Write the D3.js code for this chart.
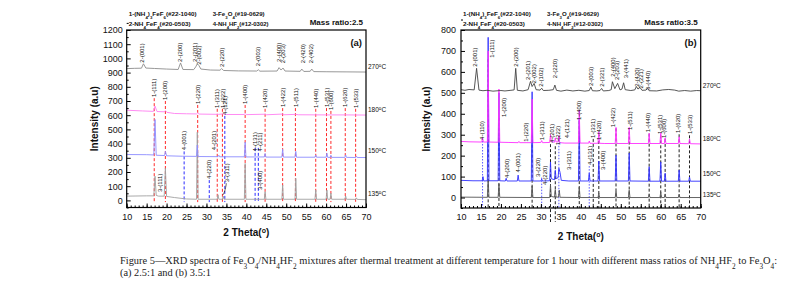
<!DOCTYPE html>
<html lang="en">
<head>
<meta charset="utf-8">
<title>XRD spectra</title>
<script src="https://cdn.jsdelivr.net/npm/d3@7"></script>
<style>
  body { margin: 0; background: #fff; }
  svg text { font-family: Arial, "Liberation Sans", sans-serif; fill: #111; }
</style>
</head>
<body>
<script>
// ---- data ----
var xTickVals = [10, 15, 20, 25, 30, 35, 40, 45, 50, 55, 60, 65, 70];
var yTicksA = [0, 100, 200, 300, 400, 500, 600, 700, 800, 900, 1000, 1100, 1200];
var yTicksB = [0, 100, 200, 300, 400, 500, 600, 700, 800];
var tempNames = ["270^oC", "180^oC", "150^oC", "135^oC"];
var tempPosA = [940, 637, 351, 49];
var tempPosB = [535, 281, 112, 12];
var legendText = ["1-(NH_4)_3FeF_6(#22-1040)", "2-NH_4FeF_4(#20-0503)", "3-Fe_3O_4(#19-0629)", "4-NH_4HF_2(#12-0302)"];
var legendWidth = [68, 62, 52, 56];

// panel (a) spectra, [2theta, intensity]
var a270 = [[10,928],[12,930],[13.7,931],[14.2,962],[14.8,932],[17,929],[20,925],[22.9,922],[23.5,968],[24.1,922],[26.8,921],[27.3,940],[27.7,962],[28.1,950],[28.6,925],[31,918],[33.4,917],[33.8,928],[34.3,915],[38,912],[42.6,911],[43,920],[43.4,910],[47.7,911],[48.2,935],[48.7,918],[49.2,932],[49.7,911],[53.5,909],[53.9,925],[54.4,908],[56,909],[56.4,925],[56.9,907],[60,906],[65,905],[70,904]];
var a180 = [[10,635],[14,630],[16.7,627],[17.1,664],[17.6,626],[19.4,624],[19.7,632],[20.1,620],[22,612],[25,610],[27.5,609],[27.8,617],[28.1,608],[33,606],[34.2,609],[35,605],[39.5,605],[39.7,613],[40,604],[44.7,607],[45,603],[49.1,608],[49.4,603],[52.4,606],[53,603],[60,602],[65,602],[70,601]];
var a150 = [[10,323],[15,322],[16.8,320],[17.1,570],[17.4,318],[19.5,316],[19.7,345],[20,314],[24,311],[27.5,310],[27.7,390],[27.9,309],[32.9,308],[33.1,318],[33.3,307],[39.5,307],[39.7,410],[39.9,306],[44.5,306],[44.7,330],[44.9,305],[48.9,305],[49.1,360],[49.3,305],[52.2,305],[52.4,345],[52.6,304],[57.2,304],[57.4,320],[57.6,304],[60,304],[60.2,332],[60.4,303],[61,303],[61.2,318],[61.4,303],[64.7,303],[64.9,320],[65.1,303],[67.4,302],[67.6,312],[67.8,302],[70,302]];
var a135 = [[10,30],[15,32],[16.8,32],[17.1,170],[17.4,35],[18,30],[19.4,30],[19.7,225],[20,28],[22,20],[25,10],[27.5,8],[27.7,480],[27.9,8],[32.7,8],[32.9,40],[33.1,8],[34,8],[34.2,30],[34.4,8],[39.5,8],[39.7,260],[39.9,8],[44.5,8],[44.7,61],[44.9,8],[48.9,8],[49.1,108],[49.3,8],[52.2,8],[52.4,155],[52.6,8],[57.2,8],[57.4,73],[57.6,8],[60,8],[60.2,73],[60.4,8],[61,8],[61.2,51],[61.4,8],[64.7,8],[64.9,31],[65.1,8],[67.4,7],[67.6,18],[67.8,7],[70,5]];

// panel (b) spectra
var b270 = [[10,515],[11,512],[12,516],[13.3,514],[13.9,617],[14.5,513],[15.5,510],[16.5,512],[18,508],[20,511],[21,509],[22.5,512],[23.3,514],[23.7,617],[24.1,512],[25.5,509],[26.8,515],[27.4,555],[27.8,530],[28.3,545],[28.8,515],[29.8,513],[30.2,522],[30.6,511],[32,512],[33.1,515],[33.5,537],[33.9,512],[35,508],[36.5,513],[38,509],[39.5,512],[41,508],[42.1,511],[42.5,528],[42.9,510],[44,509],[44.8,511],[45.2,521],[45.6,509],[47,511],[47.6,515],[47.9,553],[48.5,520],[49.2,545],[49.8,514],[50.3,518],[50.7,548],[51.1,515],[52.5,511],[53.5,514],[53.9,530],[54.3,518],[54.8,526],[55.3,512],[56.3,513],[56.7,522],[57.1,510],[59,509],[60.5,514],[62,516],[63.5,513],[64.5,508],[66,511],[67.5,508],[69,511],[70,510]];
var b180 = [[10,268],[12,266],[15.2,265],[15.4,285],[15.6,265],[16.6,265],[16.8,700],[17,265],[19.3,264],[19.5,518],[19.7,264],[22,263],[24.3,262],[24.5,268],[24.7,262],[27.6,262],[27.8,470],[28,262],[30,263],[30.2,272],[30.4,262],[32.2,263],[32.4,300],[32.6,268],[33.4,264],[33.6,285],[33.8,265],[34.3,266],[34.5,295],[34.7,262],[36,260],[39.4,260],[39.6,418],[39.8,260],[42,260],[42.1,270],[42.3,259],[44.3,259],[44.5,314],[44.7,259],[46,258],[48.6,258],[48.8,335],[49,258],[51.9,258],[52.1,335],[52.3,258],[56.9,258],[57.1,307],[57.3,258],[59.8,258],[60,309],[60.2,258],[60.9,258],[61.1,285],[61.3,258],[64.4,258],[64.6,290],[64.8,258],[67,257],[67.2,280],[67.4,257],[70,256]];
var b150 = [[10,82],[13,80],[15.3,80],[15.5,100],[15.7,79],[16.6,80],[16.8,765],[17,80],[19.3,80],[19.5,500],[19.7,80],[21.1,79],[21.3,92],[21.5,79],[24.1,79],[24.3,107],[24.5,79],[27.6,79],[27.8,505],[28,79],[30,79],[30.2,88],[30.4,79],[32.2,80],[32.4,170],[32.6,90],[33.4,85],[33.6,130],[33.8,90],[34.3,95],[34.5,140],[34.8,120],[35.1,82],[37,79],[39.4,79],[39.6,380],[39.8,79],[41.9,79],[42.1,116],[42.3,79],[44.3,79],[44.5,174],[44.7,79],[48.6,79],[48.8,202],[49,79],[51.9,79],[52.1,212],[52.3,79],[56.9,78],[57.1,147],[57.3,78],[59.8,78],[60,170],[60.2,78],[60.9,78],[61.1,116],[61.3,78],[64.4,78],[64.6,131],[64.8,78],[67,78],[67.2,98],[67.4,78],[70,78]];
var b135 = [[10,2],[16.6,1],[16.8,90],[17,1],[19.3,1],[19.5,65],[19.7,1],[27.6,0],[27.8,55],[28,0],[32.2,0],[32.4,60],[32.6,5],[33.4,2],[33.6,38],[33.8,2],[34.4,2],[34.6,35],[34.8,1],[39.4,0],[39.6,50],[39.8,0],[44.3,0],[44.5,20],[44.7,0],[48.6,0],[48.8,30],[49,0],[51.9,0],[52.1,35],[52.3,0],[56.9,0],[57.1,15],[57.3,0],[59.8,0],[60,25],[60.2,0],[60.9,0],[61.1,15],[61.3,0],[64.4,0],[64.6,15],[64.8,0],[70,0]];

// reference lines [2theta, top intensity]
var redLinesA = [[16.9,720],[19.7,700],[27.8,672],[32.7,645],[34.0,645],[39.7,672],[44.7,645],[49.1,650],[52.3,650],[57.4,645],[60.1,650],[61.2,630],[64.8,650],[67.4,645]];
var blueLinesA = [[24.4,345],[30.7,143],[34.6,595],[42.2,370],[43.0,370]];
var blackLinesB = [[16.8,660],[19.5,380],[27.8,300],[32.4,255],[33.6,245],[39.6,365],[43.1,280],[44.5,270],[48.8,330],[52.1,315],[57.1,305],[60.0,297],[61.1,280],[64.6,302],[67.2,297]];
var blueLinesB = [[15.4,270],[30.2,95],[34.5,290],[42.1,150]];
var longLinesB = [32.4, 33.6];

// peak labels [text, 2theta, intensity at text foot]
var labelsA = [["2-(001)",13.8,970],["2-(200)",23.3,975],["2-(201)",27.0,975],["2-(002)",28.0,955],["2-(220)",33.8,940],["2-(003)",43.0,945],["2-(400)",48.2,975],["2-(203)",49.2,965],["2-(420)",54.1,965],["2-(402)",56.3,965],
  ["1-(111)",16.9,728],["1-(200)",19.7,707],["1-(220)",27.8,679],["1-(311)",32.7,651],["1-(222)",34.0,651],["4-(121)",34.6,601],["1-(400)",39.7,679],["1-(420)",44.7,651],["1-(422)",49.1,658],["1-(511)",52.3,658],["1-(440)",57.4,651],["1-(531)",60.1,658],["1-(600)",61.2,637],["1-(620)",64.8,658],["1-(533)",67.4,651],
  ["4-(001)",24.4,354],["4-(220)",30.7,150],["4-(201)",31.8,354],["3-(311)",35.2,128],["3-(111)",18.35,59],["4-(131)",42.1,345],["4-(211)",43.3,345],["3-(400)",43.4,73]];
var leaderA = [[35.0,120],[34.6,60],[34.1,38]];
var labelsB = [["2-(001)",13.5,624],["2-(200)",23.7,625],["2-(201)",26.8,561],["2-(002)",28.3,545],["2-(102)",29.9,529],["2-(220)",33.5,570],["2-(003)",42.5,532],["2-(321)",45.2,529],["2-(400)",47.9,577],["2-(203)",49.1,561],["3-(441)",51.2,569],["2-(420)",54.0,529],["2-(221)",55.1,521],["3-(440)",56.7,513],
  ["1-(111)",17.8,667],["1-(200)",20.8,384],["1-(220)",26.3,266],["1-(311)",30.3,274],["4-(201)",32.8,260],["1-(222)",34.15,250],["4-(121)",36.5,283],["1-(400)",39.4,370],["1-(331)",43.0,284],["1-(420)",44.4,275],["1-(422)",48.0,336],["1-(511)",52.2,322],["1-(440)",56.9,312],["1-(531)",59.7,303],["1-(600)",60.9,284],["1-(620)",64.4,308],["1-(533)",67.2,303],
  ["4-(110)",15.2,275],["4-(200)",21.6,93],["4-(001)",24.3,120],["3-(220)",29.35,98],["4-(220)",31.0,60],["3-(311)",36.9,132],["4-(131)",42.3,155],["3-(400)",45.6,132]];

var svg = d3.select('body').append('svg').attr('width', 799).attr('height', 289);

// text with _x subscripts and ^x superscripts
function rich(sel, str) {
  var re = /([_^])(\w)/g, last = 0, m;
  while ((m = re.exec(str))) {
    if (m.index > last) sel.append('tspan').text(str.slice(last, m.index));
    sel.append('tspan').attr('baseline-shift', m[1] === '_' ? 'sub' : 'super')
      .attr('font-size', '70%').text(m[2]);
    last = re.lastIndex;
  }
  if (last < str.length) sel.append('tspan').text(str.slice(last));
  return sel;
}

// squeeze a text horizontally to a given width
function fitWidth(sel, w) {
  var len = sel.node().getBBox().width;
  var x0 = +sel.attr('x');
  sel.attr('transform', 'translate(' + x0 + ',0) scale(' + (w / len) + ',1) translate(' + (-x0) + ',0)');
}

function drawPanel(p) {
  var x = d3.scaleLinear().domain([10, 70]).range([p.left, p.right]);
  var y = d3.scaleLinear().domain(p.yDomain).range([p.bottom, p.top]);
  var g = svg.append('g');

  // dashed reference lines
  p.refs.forEach(function (r) {
    g.selectAll(null).data(r.data).enter().append('line')
      .attr('x1', function (d) { return x(d[0]); })
      .attr('x2', function (d) { return x(d[0]); })
      .attr('y1', function (d) { return y(d[1]); })
      .attr('y2', function (d) {
        return (r.long && r.long.indexOf(d[0]) >= 0) ? p.bottom + 14 : y(r.foot);
      })
      .attr('stroke', r.color).attr('stroke-width', 1)
      .attr('stroke-dasharray', r.dash);
  });

  // spectra
  var line = d3.line().x(function (d) { return x(d[0]); }).y(function (d) { return y(d[1]); });
  p.spectra.forEach(function (s) {
    g.append('path').datum(s.data).attr('d', line)
      .attr('fill', 'none').attr('stroke', s.color).attr('stroke-width', 0.9);
  });

  if (p.leader) {
    g.append('path').datum(p.leader).attr('d', d3.line().curve(d3.curveBasis)
      .x(function (d) { return x(d[0]); }).y(function (d) { return y(d[1]); }))
      .attr('fill', 'none').attr('stroke', '#222').attr('stroke-width', 0.7);
  }

  // peak labels
  g.selectAll(null).data(p.labels).enter().append('text')
    .attr('transform', function (d) { return 'translate(' + x(d[1]) + ',' + y(d[2]) + ') rotate(-90)'; })
    .attr('dy', '0.35em').attr('font-size', 6).text(function (d) { return d[0]; });

  // frame
  g.append('rect').attr('x', p.left).attr('y', p.top)
    .attr('width', p.right - p.left).attr('height', p.bottom - p.top)
    .attr('fill', 'none').attr('stroke', '#000').attr('stroke-width', 1.2);

  // axes, ticks inward
  var xa = g.append('g').attr('transform', 'translate(0,' + p.bottom + ')')
    .call(d3.axisBottom(x).tickValues(xTickVals).tickSize(-4).tickPadding(6).tickFormat(d3.format('d')));
  var xm = g.append('g').attr('transform', 'translate(0,' + p.bottom + ')')
    .call(d3.axisBottom(x).ticks(60).tickSize(-2).tickFormat(''));
  var ya = g.append('g').attr('transform', 'translate(' + p.left + ',0)')
    .call(d3.axisLeft(y).tickValues(p.yTicks).tickSize(-4).tickPadding(p.ypad).tickFormat(d3.format('d')));
  var ym = g.append('g').attr('transform', 'translate(' + p.left + ',0)')
    .call(d3.axisLeft(y).tickValues(p.yMinor).tickSize(-2).tickFormat(''));
  [xa, xm, ya, ym].forEach(function (a) {
    a.select('.domain').remove();
    a.selectAll('text').attr('font-size', 9).attr('font-family', 'Arial, sans-serif').attr('fill', '#111');
    a.selectAll('line').attr('stroke', '#000');
  });

  // axis titles
  rich(g.append('text').attr('x', (p.left + p.right) / 2).attr('y', p.xTitleY)
    .attr('text-anchor', 'middle').attr('font-size', 10).attr('font-weight', 'bold'), '2 Theta(^o)');
  g.append('text').attr('transform', 'translate(' + p.yTitleX + ',' + (p.top + p.bottom) / 2 + ') rotate(-90)')
    .attr('text-anchor', 'middle').attr('font-size', 10).attr('font-weight', 'bold').text('Intensity (a.u)');

  // temperatures
  tempNames.forEach(function (t, i) {
    rich(g.append('text').attr('x', p.right + 2).attr('y', y(p.tempPos[i])).attr('dy', '0.35em')
      .attr('font-size', 6.5), t);
  });

  // legend, ratio, panel letter
  legendText.forEach(function (t, i) {
    var lt = rich(g.append('text').attr('x', p.left + (i < 2 ? 2 : 86)).attr('y', i % 2 ? 26 : 16.5)
      .attr('font-size', 6).attr('font-weight', 'bold'), t);
    fitWidth(lt, legendWidth[i]);
  });
  g.append('text').attr('x', p.right - 3).attr('y', 25).attr('text-anchor', 'end')
    .attr('font-size', 8).attr('font-weight', 'bold').text(p.ratio);
  g.append('text').attr('x', p.right - 4).attr('y', 46).attr('text-anchor', 'end')
    .attr('font-size', 9.5).attr('font-weight', 'bold').text(p.letter);
}

drawPanel({
  left: 126.7, right: 366, top: 30, bottom: 207.5, yDomain: [-50, 1200],
  yTicks: yTicksA, yMinor: yTicksA.map(function (v) { return v + 50; }).concat([-50]), ypad: 4,
  xTitleY: 236, yTitleX: 98, tempPos: tempPosA, ratio: 'Mass ratio:2.5', letter: '(a)',
  spectra: [{ data: a135, color: '#a0a0a0' }, { data: a150, color: '#8c8cff' },
            { data: a180, color: '#ff7ff0' }, { data: a270, color: '#8c8c8c' }],
  refs: [{ data: redLinesA, color: '#ff2a2a', dash: '3,2', foot: -12 },
         { data: blueLinesA, color: '#2a2aff', dash: '3,2', foot: -12 }],
  labels: labelsA, leader: leaderA
});

drawPanel({
  left: 461, right: 700.7, top: 30, bottom: 208, yDomain: [-50, 800],
  yTicks: yTicksB, yMinor: yTicksB.map(function (v) { return v + 50; }).concat([-50]), ypad: 5,
  xTitleY: 240, yTitleX: 430, tempPos: tempPosB, ratio: 'Mass ratio:3.5', letter: '(b)',
  spectra: [{ data: b135, color: '#555' }, { data: b150, color: '#3030ff' },
            { data: b180, color: '#ff30ff' }, { data: b270, color: '#444' }],
  refs: [{ data: blackLinesB, color: '#222', dash: '3,2', foot: -50, long: longLinesB },
         { data: blueLinesB, color: '#5a5aff', dash: '1.5,1.5', foot: -50 }],
  labels: labelsB
});

// caption
var cap1 = rich(svg.append('text').attr('x', 120).attr('y', 264).attr('font-size', 10.5)
  .style('font-family', '"Liberation Serif", serif').style('fill', '#222'),
  'Figure 5\u2014XRD spectra of Fe_3O_4/NH_4HF_2 mixtures after thermal treatment at different temperature for 1 hour with different mass ratios of NH_4HF_2 to Fe_3O_4:');
fitWidth(cap1, 658);
var cap2 = svg.append('text').attr('x', 120).attr('y', 276).attr('font-size', 10.5)
  .style('font-family', '"Liberation Serif", serif').style('fill', '#222')
  .text('(a) 2.5:1 and (b) 3.5:1');
fitWidth(cap2, 91);
</script>
</body>
</html>
